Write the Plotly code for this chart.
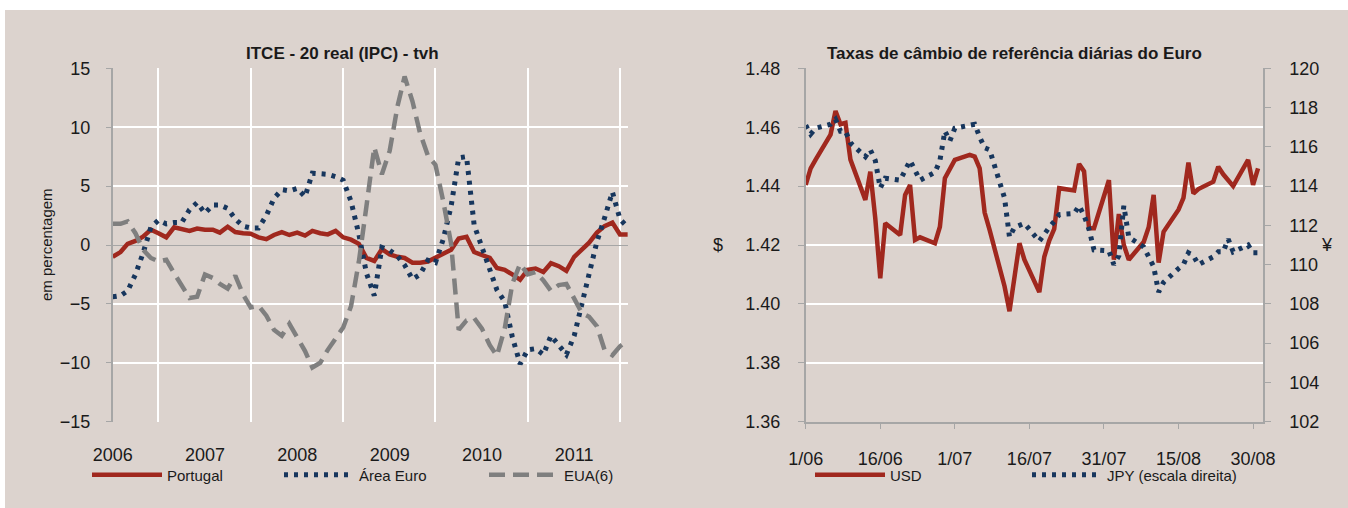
import plotly.graph_objects as go

OFF = 0
W, H = 1348, 508
BG = "#DCD3CE"
RED = "#A0281E"
NAVY = "#17365D"
GRAY = "#7F7F7F"
AXIS = "#A6A6A6"
TXT = "#1A1A1A"
FONT = "Liberation Sans, Arial, sans-serif"

# ---------------- Left chart data (monthly, Jan 2006 - Aug 2011) ----------------
meses = [f"{a}-{m:02d}-01" for a in range(2006, 2012) for m in range(1, 13)][:68]

portugal = [-1.0, -0.6, 0.1, 0.35, 0.7, 1.3, 1.0, 0.65, 1.5, 1.35, 1.2, 1.4,
            1.3, 1.3, 1.05, 1.55, 1.1, 1.0, 0.95, 0.65, 0.5, 0.85, 1.1, 0.85,
            1.05, 0.8, 1.2, 1.0, 0.9, 1.2, 0.65, 0.45, 0.1, -1.1, -1.35, -0.35,
            -0.8, -1.0, -1.1, -1.5, -1.5, -1.4, -1.1, -0.7, -0.4, 0.55, 0.7, -0.6,
            -0.9, -1.1, -1.95, -2.1, -2.5, -2.95, -2.1, -2.0, -2.3, -1.55, -1.8, -2.2,
            -1.0, -0.4, 0.2, 1.05, 1.6, 1.9, 0.9, 0.9]

area_euro = [-4.4, -4.3, -3.9, -2.5, -0.7, 1.5, 2.1, 1.8, 1.9, 1.9, 3.0, 3.6,
             2.7, 3.4, 3.4, 3.1, 2.2, 1.6, 1.45, 1.45, 2.5, 3.95, 4.7, 4.6,
             4.8, 4.1, 6.1, 6.1, 6.0, 5.8, 5.5, 3.7, 0.9, -2.4, -4.3, -0.2,
             -0.45, -0.95, -1.7, -2.9, -2.5, -1.3, -1.5, 0.5, 3.3, 7.4, 7.5, 1.7,
             -0.2, -1.9, -3.8, -4.8, -7.8, -10.1, -8.9, -8.8, -9.3, -7.7, -8.5, -9.3,
             -7.7, -4.8, -2.5, 0.3, 2.3, 4.5, 2.2, 1.5]

eua = [1.8, 1.8, 2.0, 1.0, -0.4, -1.1, -1.4, -1.25, -2.4, -3.4, -4.5, -4.4,
       -2.5, -2.8, -3.3, -3.7, -2.6, -4.2, -5.3, -5.15, -6.0, -7.2, -7.7, -6.7,
       -7.9, -9.0, -10.4, -10.0, -8.9, -8.0, -7.0, -5.2, -1.4, 3.3, 8.3, 6.0,
       8.0, 11.8, 14.3, 12.2, 9.5, 7.6, 6.8, 3.7, 0.1, -7.2, -6.4, -6.2,
       -7.1, -8.5, -9.4, -7.1, -3.3, -1.6, -2.5, -2.3, -3.0, -3.9, -3.4, -3.3,
       -4.6, -5.8, -6.1, -6.9, -8.9, -9.35, -8.6, -8.1]

anos_tick = ["2006-01-01", "2007-01-01", "2008-01-01", "2009-01-01", "2010-01-01", "2011-01-01"]
anos_txt = ["2006", "2007", "2008", "2009", "2010", "2011"]
grelha_jul = ["2006-07-01", "2007-07-01", "2008-07-01", "2009-07-01", "2010-07-01", "2011-07-01"]

# ---------------- Right chart data (daily, Jun - Aug 2011) ----------------
dias = ["2011-06-01", "2011-06-02", "2011-06-03", "2011-06-06", "2011-06-07", "2011-06-08",
        "2011-06-09", "2011-06-10", "2011-06-13", "2011-06-14", "2011-06-15", "2011-06-16",
        "2011-06-17", "2011-06-20", "2011-06-21", "2011-06-22", "2011-06-23", "2011-06-24",
        "2011-06-27", "2011-06-28", "2011-06-29", "2011-06-30",
        "2011-07-01", "2011-07-04", "2011-07-05", "2011-07-06", "2011-07-07", "2011-07-08",
        "2011-07-11", "2011-07-12", "2011-07-13", "2011-07-14", "2011-07-15", "2011-07-18",
        "2011-07-19", "2011-07-20", "2011-07-21", "2011-07-22", "2011-07-25", "2011-07-26",
        "2011-07-27", "2011-07-28", "2011-07-29",
        "2011-08-01", "2011-08-02", "2011-08-03", "2011-08-04", "2011-08-05", "2011-08-08",
        "2011-08-09", "2011-08-10", "2011-08-11", "2011-08-12", "2011-08-15", "2011-08-16",
        "2011-08-17", "2011-08-18", "2011-08-19", "2011-08-22", "2011-08-23", "2011-08-24",
        "2011-08-25", "2011-08-26", "2011-08-29", "2011-08-30", "2011-08-31"]

usd = [1.4404, 1.4460, 1.4490, 1.4575, 1.4655, 1.4610, 1.4615, 1.4490, 1.4353, 1.4449, 1.4290,
       1.4087, 1.4274, 1.4234, 1.4370, 1.4404, 1.4217, 1.4226, 1.4206, 1.4262, 1.4427, 1.4460,
       1.4489, 1.4506, 1.4500, 1.4460, 1.4310, 1.4251, 1.4060, 1.3975, 1.4105, 1.4206, 1.4150,
       1.4040, 1.4160, 1.4215, 1.4255, 1.4393, 1.4385, 1.4475, 1.4450, 1.4257, 1.4257,
       1.4420, 1.4150, 1.4305, 1.4200, 1.4150, 1.4210, 1.4260, 1.4370, 1.4140, 1.4245, 1.4320,
       1.4360, 1.4480, 1.4375, 1.4390, 1.4415, 1.4466, 1.4440, 1.4420, 1.4400, 1.4489, 1.4404,
       1.4460]

jpy = [117.1, 116.65, 116.95, 117.15, 117.4, 116.8, 116.8, 116.2, 115.5, 115.85, 115.3,
       113.9, 114.4, 114.3, 114.8, 115.3, 114.8, 114.3, 114.7, 115.3, 116.8, 116.3,
       116.95, 117.1, 117.15, 116.5, 115.95, 115.85, 113.4, 111.4, 111.9, 112.0, 112.1,
       111.2, 111.6, 111.9, 112.2, 112.55, 112.6, 113.0, 112.5, 111.8, 110.75,
       110.7, 110.0, 110.45, 113.0, 111.4, 110.9, 110.45, 109.9, 108.6, 109.1, 109.8,
       110.0, 110.6, 110.45, 110.0, 110.4, 110.65, 110.65, 111.3, 110.65, 111.0, 110.6,
       110.6]

dias_tick = ["2011-06-01", "2011-06-16", "2011-07-01", "2011-07-16", "2011-07-31", "2011-08-15", "2011-08-30"]
dias_txt = ["1/06", "16/06", "1/07", "16/07", "31/07", "15/08", "30/08"]


def fx(p):
    return (p - OFF) / W


def fy(p):
    return 1 - (p - OFF) / H


DOT = "4px,6px"

fig = go.Figure()

fig.add_trace(go.Scatter(x=meses, y=portugal, name="Portugal", mode="lines",
                         line=dict(color=RED, width=4.5), xaxis="x", yaxis="y", legend="legend"))
fig.add_trace(go.Scatter(x=meses, y=area_euro, name="Área Euro", mode="lines",
                         line=dict(color=NAVY, width=5, dash=DOT), xaxis="x", yaxis="y", legend="legend2"))
fig.add_trace(go.Scatter(x=meses, y=eua, name="EUA(6)", mode="lines",
                         line=dict(color=GRAY, width=4.5, dash="16px,8px"), xaxis="x", yaxis="y", legend="legend3"))

fig.add_trace(go.Scatter(x=dias, y=usd, name="USD", mode="lines",
                         line=dict(color=RED, width=4.5), xaxis="x2", yaxis="y3", legend="legend4"))
fig.add_trace(go.Scatter(x=dias, y=jpy, name="JPY (escala direita)", mode="lines",
                         line=dict(color=NAVY, width=5, dash=DOT), xaxis="x2", yaxis="y4", legend="legend5"))

ydom = [fy(421.7), fy(68.3)]
tickfont = dict(family=FONT, size=18, color=TXT)

fig.update_layout(
    width=W, height=H,
    margin=dict(l=0, r=0, t=0, b=0, pad=0, autoexpand=False),
    paper_bgcolor="white",
    plot_bgcolor="rgba(0,0,0,0)",
    font=dict(family=FONT, color=TXT),
    showlegend=True,
    xaxis=dict(domain=[fx(112.7), fx(627.8)], type="date", anchor="y",
               range=["2006-01-01", "2011-08-01"],
               tickmode="array", tickvals=anos_tick, ticktext=anos_txt,
               showgrid=False, zeroline=False, showline=False, ticks="",
               tickfont=tickfont, ticklabelstandoff=20, automargin=False,
               minor=dict(tickmode="array", tickvals=grelha_jul, showgrid=True,
                          gridcolor="white", gridwidth=2, ticks="")),
    yaxis=dict(domain=ydom, anchor="x", range=[-15, 15], dtick=5,
               showgrid=True, gridcolor="white", gridwidth=2,
               zeroline=True, zerolinecolor=AXIS, zerolinewidth=1.3,
               showline=True, linecolor=AXIS, linewidth=1.5,
               ticks="outside", ticklen=5, tickcolor=AXIS, tickwidth=1.3,
               tickfont=tickfont, ticklabelstandoff=12, automargin=False),
    xaxis2=dict(domain=[fx(805.7), fx(1263.0)], type="date", anchor="y3",
                range=["2011-06-01", "2011-09-01"],
                tickmode="array", tickvals=dias_tick, ticktext=dias_txt,
                showgrid=False, zeroline=False,
                showline=True, linecolor=AXIS, linewidth=1.5,
                ticks="outside", ticklen=6, tickcolor=AXIS, tickwidth=1.3,
                tickfont=tickfont, ticklabelstandoff=14, automargin=False),
    yaxis3=dict(domain=ydom, anchor="x2", range=[1.36, 1.48], dtick=0.02, tickformat=".2f",
                showgrid=True, gridcolor="white", gridwidth=1.5, zeroline=False,
                showline=True, linecolor=AXIS, linewidth=1.5,
                ticks="outside", ticklen=6, tickcolor=AXIS, tickwidth=1.3,
                tickfont=tickfont, ticklabelstandoff=14, automargin=False),
    yaxis4=dict(overlaying="y3", anchor="x2", side="right", range=[102, 120], dtick=2,
                showgrid=False, zeroline=False,
                showline=True, linecolor=AXIS, linewidth=1.5,
                ticks="outside", ticklen=6, tickcolor=AXIS, tickwidth=1.3,
                tickfont=tickfont, ticklabelstandoff=15, automargin=False),
)

leg_common = dict(orientation="h", xanchor="left", yanchor="middle", itemwidth=70,
                  bgcolor="rgba(0,0,0,0)", borderwidth=0,
                  font=dict(family=FONT, size=15, color=TXT))
fig.update_layout(
    legend=dict(x=fx(87), y=fy(475), **leg_common),
    legend2=dict(x=fx(279), y=fy(475), **leg_common),
    legend3=dict(x=fx(484), y=fy(475), **leg_common),
    legend4=dict(x=fx(810), y=fy(475), **leg_common),
    legend5=dict(x=fx(1027), y=fy(475), **leg_common),
)

fig.add_shape(type="rect", xref="paper", yref="paper", x0=fx(5), x1=1, y0=0, y1=fy(10),
              fillcolor=BG, line=dict(width=0), layer="below")

fig.add_annotation(text="<b>ITCE - 20 real (IPC) - tvh</b>", x=fx(342), y=fy(53), xref="paper", yref="paper",
                   showarrow=False, xanchor="center", yanchor="middle", font=dict(family=FONT, size=17, color=TXT))
fig.add_annotation(text="<b>Taxas de câmbio de referência diárias do Euro</b>", x=fx(1014), y=fy(53),
                   xref="paper", yref="paper", showarrow=False, xanchor="center", yanchor="middle",
                   font=dict(family=FONT, size=17, color=TXT))
fig.add_annotation(text="em percentagem", x=fx(46), y=fy(245), xref="paper", yref="paper", textangle=-90,
                   showarrow=False, xanchor="center", yanchor="middle", font=dict(family=FONT, size=15, color=TXT))
fig.add_annotation(text="$", x=fx(717.5), y=fy(245), xref="paper", yref="paper",
                   showarrow=False, xanchor="center", yanchor="middle", font=dict(family=FONT, size=18, color=TXT))
fig.add_annotation(text="¥", x=fx(1327), y=fy(245), xref="paper", yref="paper",
                   showarrow=False, xanchor="center", yanchor="middle", font=dict(family=FONT, size=18, color=TXT))

# remove the page's default body margin so the figure fills the window exactly
fig.write_html("out.html", config={"displayModeBar": False},
               post_script="document.body.style.margin='0px';")
